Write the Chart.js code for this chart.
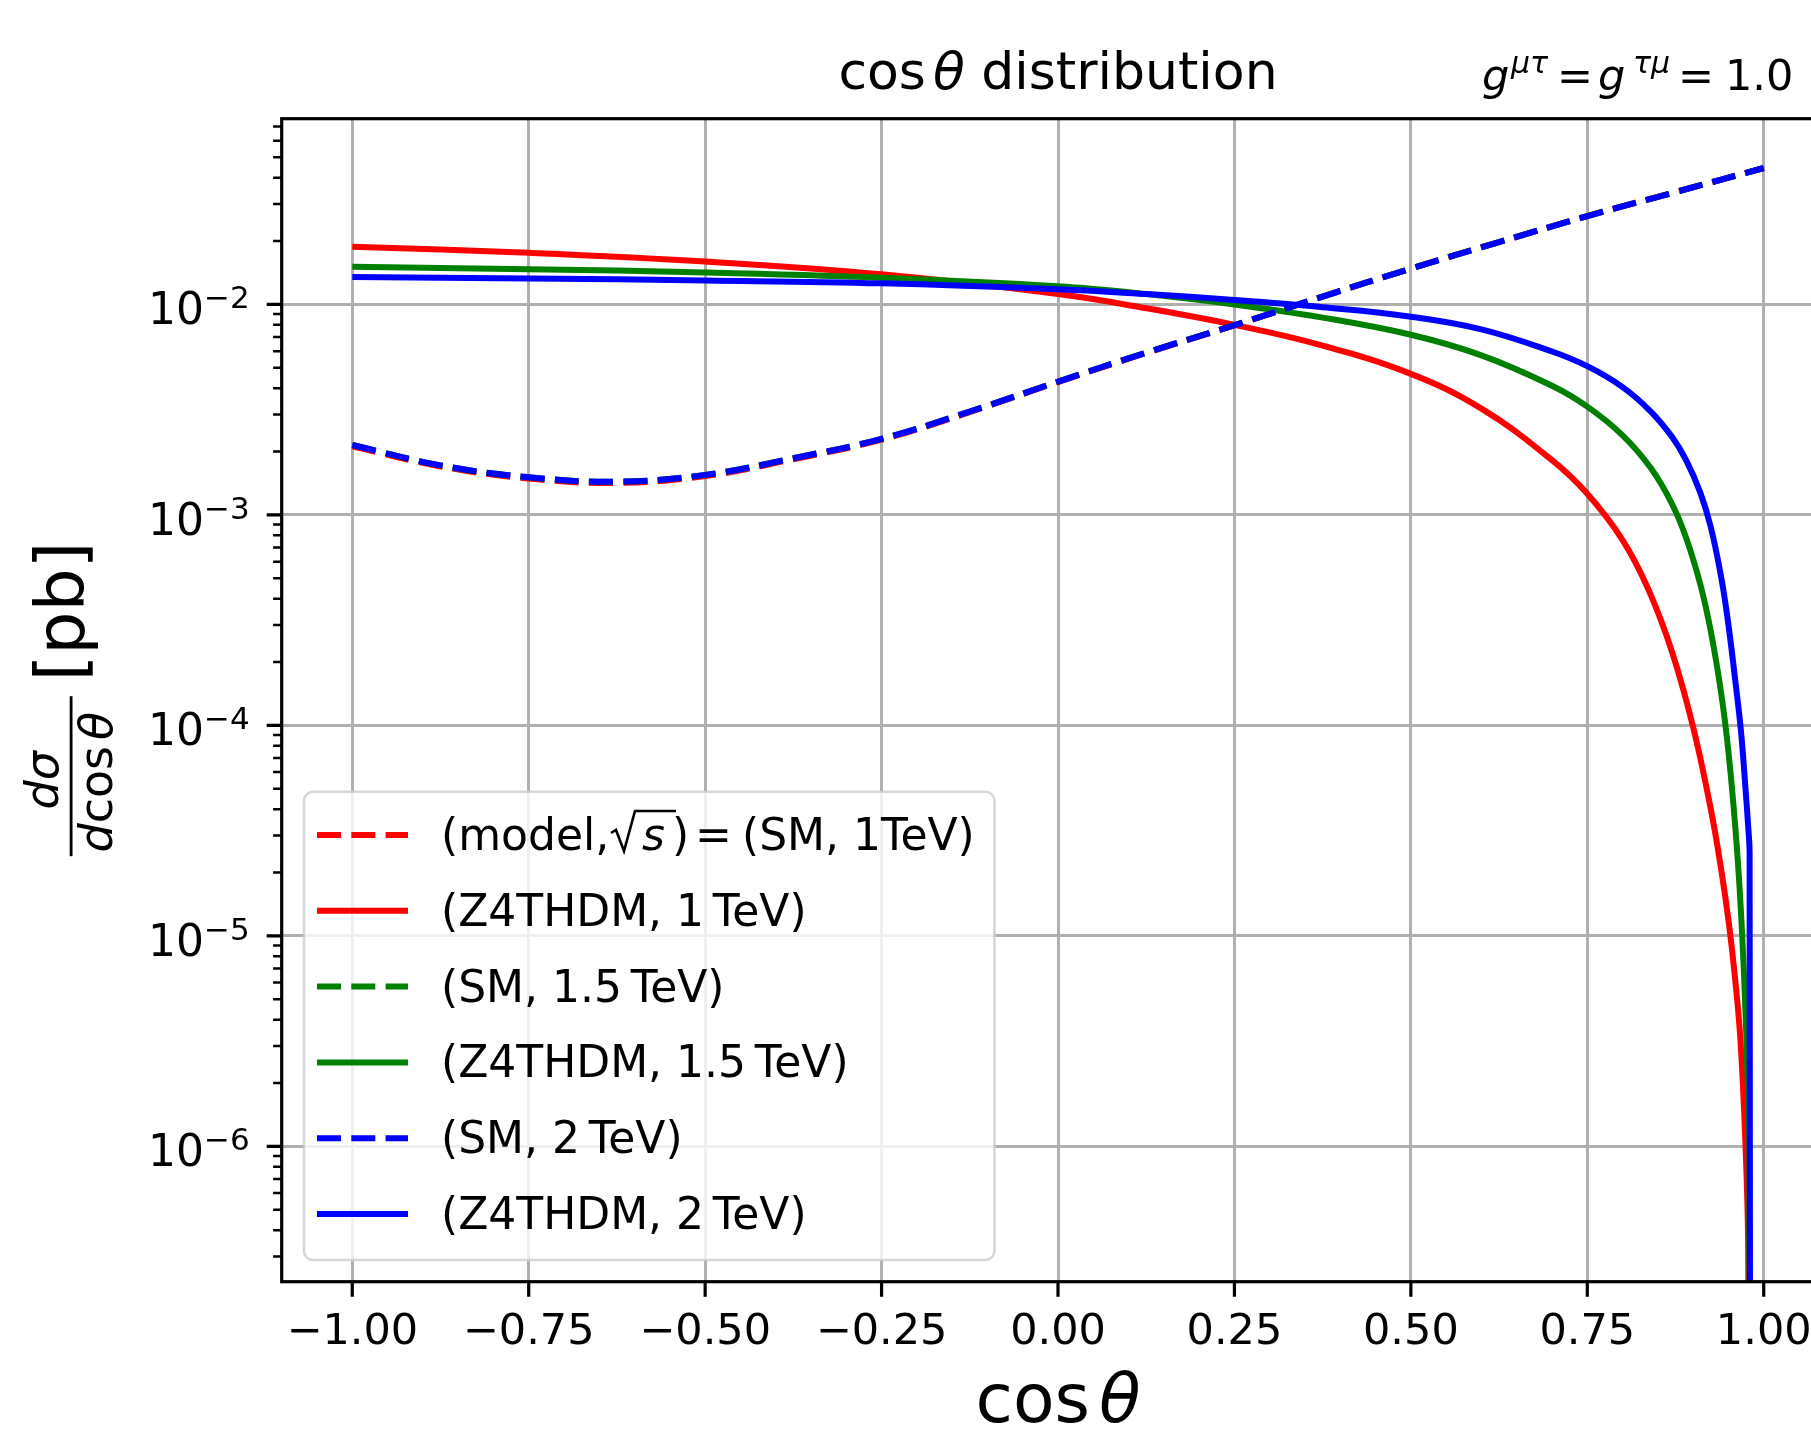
<!DOCTYPE html>
<html><head><meta charset="utf-8">
<script src="https://cdn.jsdelivr.net/npm/chart.js@4.4.1/dist/chart.umd.min.js"></script>
<style>
html,body{margin:0;padding:0;overflow:hidden;background:#fff;}
#wrap{width:1811px;height:1430px;overflow:hidden;position:relative;background:#fff;}
canvas{display:block;}
</style></head><body>
<div id="wrap"><canvas id="c" width="1850" height="1430"></canvas></div>
<script>
// ---------------- data ----------------
const xTickValues = [-1, -0.75, -0.5, -0.25, 0, 0.25, 0.5, 0.75, 1];
const xTickLabels = ['\u22121.00', '\u22120.75', '\u22120.50', '\u22120.25', '0.00', '0.25', '0.50', '0.75', '1.00'];
const yTickValues = [1e-6, 1e-5, 1e-4, 1e-3, 1e-2];
const yTickBase = '10';
const yTickSup = ['\u22126', '\u22125', '\u22124', '\u22123', '\u22122'];
const xRange = [-1.1, 1.1];
const yRange = [2.276e-7, 7.63e-2];

const titleText = 'distribution';
const legendLabels = ['(model,\u221As) = (SM, 1TeV)', '(Z4THDM, 1\u2009TeV)', '(SM, 1.5\u2009TeV)',
  '(Z4THDM, 1.5\u2009TeV)', '(SM, 2\u2009TeV)', '(Z4THDM, 2\u2009TeV)'];

// SM curves (practically identical for the three energies)
const smCos   = [-1, -0.875, -0.75, -0.625, -0.5, -0.375, -0.25, -0.125, 0, 0.125, 0.25, 0.375, 0.5, 0.625, 0.75, 0.875, 1.0];
const sm1TeV  = [2.12e-3, 1.70e-3, 1.49e-3, 1.42e-3, 1.53e-3, 1.84e-3, 2.28e-3, 3.08e-3, 4.28e-3, 5.88e-3, 7.95e-3, 1.09e-2, 1.48e-2, 1.98e-2, 2.63e-2, 3.42e-2, 4.45e-2];
const sm15TeV = [2.15e-3, 1.72e-3, 1.51e-3, 1.44e-3, 1.55e-3, 1.86e-3, 2.30e-3, 3.10e-3, 4.30e-3, 5.90e-3, 7.97e-3, 1.09e-2, 1.48e-2, 1.98e-2, 2.63e-2, 3.42e-2, 4.45e-2];
const sm2TeV  = [2.15e-3, 1.72e-3, 1.51e-3, 1.44e-3, 1.55e-3, 1.86e-3, 2.30e-3, 3.10e-3, 4.30e-3, 5.90e-3, 7.97e-3, 1.09e-2, 1.48e-2, 1.98e-2, 2.63e-2, 3.42e-2, 4.45e-2];

// Z4THDM curves
const z4Cos1TeV = [-1, -0.75, -0.5, -0.25, 0, 0.125, 0.25, 0.375, 0.5, 0.6, 0.7, 0.75, 0.8, 0.836, 0.87, 0.9, 0.925, 0.94, 0.951, 0.96, 0.967, 0.974, 0.978, 0.9805];
const z4_1TeV   = [1.88e-2, 1.76e-2, 1.60e-2, 1.39e-2, 1.12e-2, 9.6e-3, 8.0e-3, 6.38e-3, 4.68e-3, 3.2e-3, 1.82e-3, 1.26e-3, 7.6e-4, 4.47e-4, 2.24e-4, 9.8e-5, 4.0e-5, 2.04e-5, 1.12e-5, 6.0e-6, 3.2e-6, 1.05e-6, 3.2e-7, 1e-9];

const z4Cos15TeV = [-1, -0.75, -0.5, -0.25, 0, 0.125, 0.25, 0.375, 0.5, 0.6, 0.7, 0.75, 0.8, 0.84, 0.87, 0.89, 0.91, 0.925, 0.94, 0.95, 0.96, 0.967, 0.973, 0.977, 0.9795, 0.9805];
const z4_15TeV   = [1.51e-2, 1.47e-2, 1.42e-2, 1.34e-2, 1.22e-2, 1.12e-2, 1.0e-2, 8.66e-3, 7.18e-3, 5.73e-3, 4.11e-3, 3.27e-3, 2.39e-3, 1.67e-3, 1.13e-3, 7.8e-4, 4.7e-4, 2.8e-4, 1.4e-4, 7.5e-5, 3.2e-5, 1.44e-5, 5.5e-6, 2.2e-6, 9.8e-7, 1e-9];

const z4Cos2TeV = [-1, -0.75, -0.5, -0.25, 0, 0.125, 0.25, 0.375, 0.5, 0.6, 0.7, 0.75, 0.8, 0.84, 0.87, 0.89, 0.91, 0.925, 0.94, 0.95, 0.96, 0.968, 0.974, 0.978, 0.98, 0.9805];
const z4_2TeV   = [1.35e-2, 1.33e-2, 1.30e-2, 1.26e-2, 1.18e-2, 1.12e-2, 1.05e-2, 9.7e-3, 8.75e-3, 7.62e-3, 5.98e-3, 5.09e-3, 4.05e-3, 3.1e-3, 2.35e-3, 1.82e-3, 1.28e-3, 8.75e-4, 5.0e-4, 3.0e-4, 1.6e-4, 9.2e-5, 5.1e-5, 3.3e-5, 2.5e-5, 1e-9];

// ---------------- styling ----------------
const FONT = "'DejaVu Sans'";
const LW = 6;
const DASH = [24, 10.3];
const seriesDefs = [
  {xs: smCos, ys: sm1TeV, color: '#ff0000', dash: DASH},
  {xs: z4Cos1TeV, ys: z4_1TeV, color: '#ff0000', dash: []},
  {xs: smCos, ys: sm15TeV, color: '#008000', dash: DASH},
  {xs: z4Cos15TeV, ys: z4_15TeV, color: '#008000', dash: []},
  {xs: smCos, ys: sm2TeV, color: '#0000ff', dash: DASH},
  {xs: z4Cos2TeV, ys: z4_2TeV, color: '#0000ff', dash: []}
];

const datasets = seriesDefs.map((s, i) => ({
  label: legendLabels[i],
  data: s.xs.map((x, j) => ({x: x, y: s.ys[j]})),
  borderColor: s.color,
  borderWidth: LW,
  borderDash: s.dash,
  borderCapStyle: 'butt',
  borderJoinStyle: 'round',
  showLine: true,
  pointRadius: 0,
  fill: false,
  tension: 0.4,
  clip: 0,
  order: seriesDefs.length - 1 - i
}));

function runs(ctx, parts, x, y) {
  let cx = x;
  for (const p of parts) {
    ctx.font = p.f;
    cx += (p.pre || 0);
    ctx.fillText(p.t, cx, y + (p.dy || 0));
    cx += ctx.measureText(p.t).width + (p.post || 0);
  }
  return cx;
}
function runsWidth(ctx, parts) {
  let w = 0;
  for (const p of parts) { ctx.font = p.f; w += (p.pre || 0) + ctx.measureText(p.t).width + (p.post || 0); }
  return w;
}

const decor = {
  id: 'decor',
  afterDraw(chart) {
    const ctx = chart.ctx, a = chart.chartArea, xs = chart.scales.x, ys = chart.scales.y;
    ctx.save();
    ctx.fillStyle = '#000'; ctx.strokeStyle = '#000';
    ctx.textBaseline = 'alphabetic'; ctx.textAlign = 'left';
    // spines
    ctx.lineWidth = 3.2; ctx.lineJoin = 'miter'; ctx.setLineDash([]);
    ctx.strokeRect(a.left, a.top, a.right - a.left, a.bottom - a.top);
    // x major ticks
    ctx.lineWidth = 3.2; ctx.beginPath();
    xTickValues.forEach(v => { const px = xs.getPixelForValue(v); ctx.moveTo(px, a.bottom); ctx.lineTo(px, a.bottom + 15); });
    ctx.stroke();
    // y major ticks
    ctx.beginPath();
    yTickValues.forEach(v => { const py = ys.getPixelForValue(v); ctx.moveTo(a.left, py); ctx.lineTo(a.left - 15, py); });
    ctx.stroke();
    // y minor ticks
    ctx.lineWidth = 2.5; ctx.beginPath();
    for (let e = -8; e <= 0; e++) {
      for (let k = 2; k <= 9; k++) {
        const v = k * Math.pow(10, e);
        if (v < yRange[0] || v > yRange[1]) continue;
        const py = ys.getPixelForValue(v);
        ctx.moveTo(a.left, py); ctx.lineTo(a.left - 8.6, py);
      }
    }
    ctx.stroke();
    // y tick labels 10^{-n}
    const mainF = `44px ${FONT}`, supF = `31px ${FONT}`;
    yTickValues.forEach((v, i) => {
      const py = ys.getPixelForValue(v);
      ctx.font = supF; const sw = ctx.measureText(yTickSup[i]).width;
      ctx.font = mainF; const mw = ctx.measureText(yTickBase).width;
      const right = a.left - 32;
      ctx.font = mainF; ctx.fillText(yTickBase, right - sw - mw, py + 20);
      ctx.font = supF; ctx.fillText(yTickSup[i], right - sw, py + 4);
    });
    // title
    const tParts = [
      {t: 'cos', f: `52px ${FONT}`, post: 7},
      {t: '\u03B8', f: `italic 52px ${FONT}`},
      {t: ' ' + titleText, f: `52px ${FONT}`}
    ];
    const tw = runsWidth(ctx, tParts);
    const cxA = (a.left + a.right) / 2;
    runs(ctx, tParts, cxA - tw / 2, 89);
    // right title g^{mu tau} = g^{tau mu} = 1.0
    const rf = `43px ${FONT}`, rif = `italic 43px ${FONT}`, rsf = `italic 30px ${FONT}`;
    ctx.font = rif; ctx.fillText('g', 1482, 90);
    ctx.font = rsf; ctx.fillText('\u03BC\u03C4', 1511, 73);
    ctx.font = rf; ctx.fillText('=', 1557, 90);
    ctx.font = rif; ctx.fillText('g', 1598, 90);
    ctx.font = rsf; ctx.fillText('\u03C4\u03BC', 1633, 73);
    ctx.font = rf; ctx.fillText('=', 1678, 90);
    ctx.font = rf; ctx.fillText('1.0', 1725, 90);
    // x label
    const xl = [
      {t: 'cos', f: `68px ${FONT}`, post: 9},
      {t: '\u03B8', f: `italic 68px ${FONT}`}
    ];
    const xlw = runsWidth(ctx, xl);
    runs(ctx, xl, cxA - xlw / 2, 1422);
    // y label (rotated)
    ctx.save();
    ctx.translate(84, (a.top + a.bottom) / 2);
    ctx.rotate(-Math.PI / 2);
    ctx.font = `68px ${FONT}`; ctx.fillText('[pb]', 19, 0);
    ctx.fillRect(-156, -14.3, 160, 2.8);
    const num = [{t: 'd\u03C3', f: `italic 46px ${FONT}`}];
    const nw = runsWidth(ctx, num);
    runs(ctx, num, -80 - nw / 2, -25.6);
    const den = [
      {t: 'd', f: `italic 46px ${FONT}`},
      {t: 'cos', f: `46px ${FONT}`, post: 6},
      {t: '\u03B8', f: `italic 46px ${FONT}`}
    ];
    const dw = runsWidth(ctx, den);
    runs(ctx, den, -82 - dw / 2, 28.4);
    ctx.restore();
    // legend
    const lx0 = 304, ly0 = 791.7, lx1 = 994.4, ly1 = 1260;
    ctx.beginPath();
    ctx.roundRect(lx0, ly0, lx1 - lx0, ly1 - ly0, 9);
    ctx.fillStyle = 'rgba(255,255,255,0.8)'; ctx.fill();
    ctx.lineWidth = 2.5; ctx.strokeStyle = 'rgba(204,204,204,0.8)'; ctx.stroke();
    const lf = `44px ${FONT}`;
    seriesDefs.forEach((s, i) => {
      const ry = 835 + i * 75.8;
      ctx.beginPath();
      ctx.setLineDash(s.dash); ctx.lineWidth = LW; ctx.strokeStyle = s.color; ctx.lineCap = 'butt';
      ctx.moveTo(317, ry); ctx.lineTo(408, ry); ctx.stroke();
      ctx.setLineDash([]);
      ctx.fillStyle = '#000';
      if (i === 0) {
        const bl = ry + 15;
        ctx.font = lf; ctx.fillText('(model,', 441, bl);
        // radical sign for sqrt(s)
        ctx.beginPath(); ctx.lineWidth = 2.6; ctx.strokeStyle = '#000'; ctx.lineJoin = 'miter';
        ctx.moveTo(611, bl - 17); ctx.lineTo(616, bl - 20); ctx.lineTo(624, bl + 1);
        ctx.lineTo(635, bl - 39); ctx.lineTo(676, bl - 39); ctx.stroke();
        ctx.font = `italic 44px ${FONT}`; ctx.fillText('s', 642, bl);
        ctx.font = lf; ctx.fillText(')', 672, bl);
        ctx.fillText('=', 695, bl);
        ctx.fillText('(SM, 1TeV)', 742, bl);
      } else {
        ctx.font = lf; ctx.fillText(legendLabels[i], 441, ry + 15);
      }
    });
    ctx.restore();
  }
};

new Chart(document.getElementById('c').getContext('2d'), {
  type: 'scatter',
  data: {datasets: datasets},
  options: {
    responsive: false,
    animation: false,
    devicePixelRatio: 1,
    layout: {padding: {left: 0, right: 15.7, top: 118.7, bottom: 0}},
    plugins: {legend: {display: false}, tooltip: {enabled: false}, title: {display: false}},
    scales: {
      x: {
        type: 'linear', min: xRange[0], max: xRange[1],
        afterBuildTicks: s => { s.ticks = xTickValues.map(v => ({value: v})); },
        afterFit: s => { s.height = 1430 - 1281.7; },
        ticks: {
          autoSkip: false, maxRotation: 0, minRotation: 0, padding: 10,
          font: {family: FONT, size: 43}, color: '#000',
          callback: (v, i) => xTickLabels[i]
        },
        grid: {color: '#b0b0b0', lineWidth: 3, drawTicks: true, tickLength: 15, tickColor: 'rgba(0,0,0,0)'},
        border: {display: false}
      },
      y: {
        type: 'logarithmic', min: yRange[0], max: yRange[1],
        afterBuildTicks: s => { s.ticks = yTickValues.map(v => ({value: v})); },
        afterFit: s => { s.width = 281.7; },
        ticks: {display: false},
        grid: {color: '#b0b0b0', lineWidth: 3, drawTicks: false},
        border: {display: false}
      }
    }
  },
  plugins: [decor]
});
</script>
</body></html>
